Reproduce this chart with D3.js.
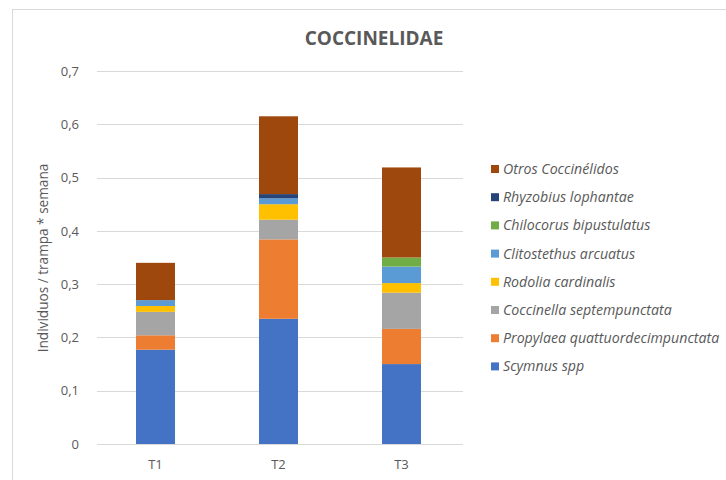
<!DOCTYPE html>
<html>
<head>
<meta charset="utf-8">
<script src="https://cdn.jsdelivr.net/npm/d3@7"></script>
<style>
  html, body { margin: 0; padding: 0; background: #fff; }
  svg { display: block; }
  text { font-family: "Open Sans", Lato, sans-serif; fill: #595959; }
</style>
</head>
<body>
<svg id="chart" width="726" height="480"></svg>
<script>
// Sampling periods
const categories = ["T1", "T2", "T3"];

// Species (stacking order, bottom to top)
const species = [
  "Scymnus spp",
  "Propylaea quattuordecimpunctata",
  "Coccinella septempunctata",
  "Rodolia cardinalis",
  "Clitostethus arcuatus",
  "Chilocorus bipustulatus",
  "Rhyzobius lophantae",
  "Otros Coccinélidos"
];

// Individuals / trap * week, one value per period
const scymnus      = [0.177, 0.235, 0.150];
const propylaea    = [0.027, 0.149, 0.066];
const coccinella   = [0.044, 0.037, 0.068];
const rodolia      = [0.011, 0.029, 0.018];
const clitostethus = [0.011, 0.011, 0.031];
const chilocorus   = [0.000, 0.000, 0.017];
const rhyzobius    = [0.000, 0.008, 0.000];
const otros        = [0.070, 0.146, 0.169];

const yTicks = [0, 0.1, 0.2, 0.3, 0.4, 0.5, 0.6, 0.7];

const colors = ["#4472C4", "#ED7D31", "#A5A5A5", "#FFC000", "#5B9BD5", "#70AD47", "#264478", "#9E480E"];

const seriesValues = [scymnus, propylaea, coccinella, rodolia, clitostethus, chilocorus, rhyzobius, otros];
const rows = categories.map((c, i) => {
  const r = { cat: c };
  species.forEach((s, k) => { r[s] = seriesValues[k][i]; });
  return r;
});

const svg = d3.select("#chart");

// Chart frame
svg.append("rect")
  .attr("x", 12.5).attr("y", 9.5)
  .attr("width", 800).attr("height", 600)
  .attr("fill", "none").attr("stroke", "#d9d9d9");

const plot = { left: 94, right: 463, top: 71, bottom: 444 };

const x = d3.scaleBand()
  .domain(categories)
  .range([plot.left, plot.right])
  .paddingInner(0.683)
  .paddingOuter(0.3415);

const y = d3.scaleLinear()
  .domain([0, 0.7])
  .range([plot.bottom, plot.top]);

// Gridlines
svg.append("g")
  .selectAll("line")
  .data(yTicks)
  .join("line")
  .attr("x1", plot.left + 3).attr("x2", plot.right)
  .attr("y1", d => Math.round(y(d)) + 0.5)
  .attr("y2", d => Math.round(y(d)) + 0.5)
  .attr("stroke", "#d9d9d9").attr("stroke-width", 1);

// Y axis labels
const fmt = d => d === 0 ? "0" : d3.format(".1f")(d).replace(".", ",");
const yAxis = d3.axisLeft(y).tickValues(yTicks).tickFormat(fmt).tickSize(0).tickPadding(0);
const yG = svg.append("g")
  .attr("transform", `translate(${plot.left - 15},0)`)
  .call(yAxis);
yG.select(".domain").remove();
yG.selectAll("text")
  .attr("font-family", "'Open Sans', Lato, sans-serif")
  .attr("font-size", 13)
  .attr("fill", "#595959");

// X axis labels
const xAxis = d3.axisBottom(x).tickSize(0).tickPadding(0);
const xG = svg.append("g")
  .attr("transform", `translate(0,${plot.bottom + 16})`)
  .call(xAxis);
xG.select(".domain").remove();
xG.selectAll("text")
  .attr("font-family", "'Open Sans', Lato, sans-serif")
  .attr("font-size", 13)
  .attr("fill", "#595959");

// Stacked bars
const stack = d3.stack().keys(species);
const layers = stack(rows);

svg.append("g")
  .selectAll("g")
  .data(layers)
  .join("g")
  .attr("fill", (d, i) => colors[i])
  .selectAll("rect")
  .data(d => d)
  .join("rect")
  .attr("x", d => x(d.data.cat))
  .attr("width", x.bandwidth())
  .attr("y", d => y(d[1]))
  .attr("height", d => Math.max(0, y(d[0]) - y(d[1])));

// Title
svg.append("text")
  .attr("x", 374).attr("y", 45)
  .attr("text-anchor", "middle")
  .attr("font-family", "Lato, 'Open Sans', sans-serif")
  .attr("font-size", 19)
  .attr("font-weight", "bold")
  .text("COCCINELIDAE");

// Y axis title
svg.append("text")
  .attr("transform", `translate(48,258) rotate(-90)`)
  .attr("text-anchor", "middle")
  .attr("font-size", 13.6)
  .text("Individuos / trampa * semana");

// Legend (top to bottom mirrors stacking order reversed)
const legendOrder = species.map((s, i) => ({ name: s, color: colors[i] })).reverse();
const legend = svg.append("g")
  .selectAll("g")
  .data(legendOrder)
  .join("g")
  .attr("transform", (d, i) => `translate(491,${169 + i * 28.2})`);

legend.append("rect")
  .attr("x", 0).attr("y", -4)
  .attr("width", 8).attr("height", 8)
  .attr("fill", d => d.color);

legend.append("text")
  .attr("x", 12).attr("y", 0)
  .attr("dy", "0.35em")
  .attr("font-size", 14.2)
  .attr("font-style", "italic")
  .text(d => d.name);
</script>
</body>
</html>
